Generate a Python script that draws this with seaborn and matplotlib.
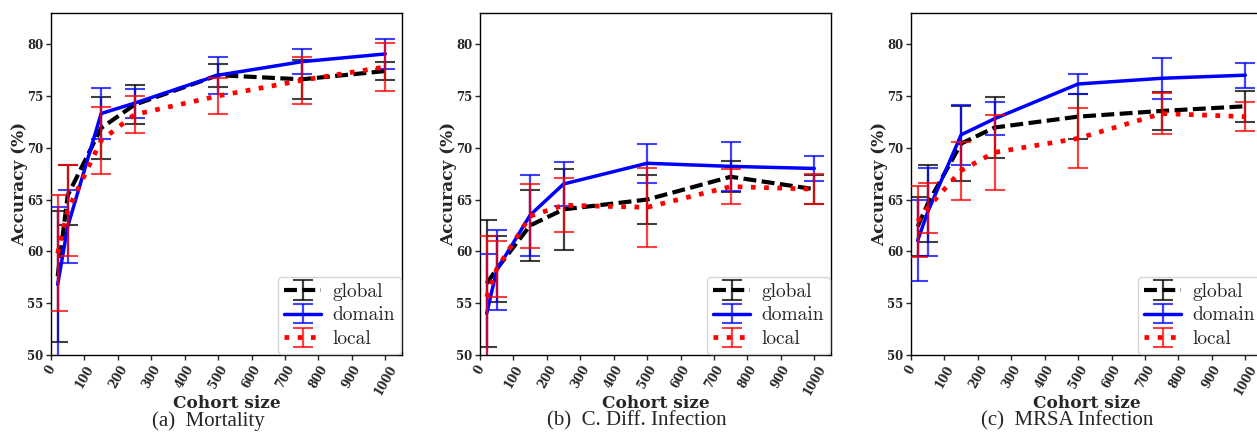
import matplotlib
matplotlib.use("Agg")
import matplotlib.pyplot as plt
import seaborn as sns
import pandas as pd
from matplotlib.lines import Line2D

cohort = [20, 50, 150, 250, 500, 750, 1000]
series = ["global", "domain", "local"]

mort_global = [57.6, 65.4, 71.9, 74.15, 77.0, 76.6, 77.4]
mort_global_err = [6.3, 2.9, 3.0, 1.9, 1.1, 1.9, 0.9]
mort_domain = [56.8, 62.4, 73.3, 74.3, 77.0, 78.3, 79.05]
mort_domain_err = [7.5, 3.5, 2.5, 1.4, 1.8, 1.2, 1.45]
mort_local = [59.8, 63.95, 70.7, 73.2, 75.0, 76.5, 77.8]
mort_local_err = [5.6, 4.35, 3.2, 1.8, 1.7, 2.3, 2.3]

cdiff_global = [56.9, 58.3, 62.5, 64.05, 65.0, 67.2, 66.0]
cdiff_global_err = [6.1, 3.2, 3.4, 3.9, 2.4, 1.5, 1.4]
cdiff_domain = [54.0, 58.2, 63.5, 66.5, 68.5, 68.2, 68.0]
cdiff_domain_err = [5.7, 3.9, 3.9, 2.1, 1.9, 2.4, 1.2]
cdiff_local = [55.6, 58.3, 63.4, 64.45, 64.25, 66.25, 66.0]
cdiff_local_err = [5.9, 2.7, 3.1, 2.6, 3.8, 1.7, 1.45]

mrsa_global = [62.4, 64.6, 70.4, 71.95, 73.0, 73.55, 74.0]
mrsa_global_err = [2.8, 3.7, 3.6, 2.9, 2.2, 1.8, 1.5]
mrsa_domain = [61.05, 63.8, 71.25, 72.8, 76.15, 76.7, 77.0]
mrsa_domain_err = [3.95, 4.2, 2.9, 1.6, 1.0, 2.0, 1.2]
mrsa_local = [62.9, 64.2, 67.8, 69.55, 70.9, 73.3, 73.0]
mrsa_local_err = [3.4, 2.4, 2.8, 3.6, 2.9, 2.0, 1.4]

captions = ["(a)  Mortality", "(b)  C. Diff. Infection", "(c)  MRSA Infection"]
xticks = list(range(0, 1001, 100))
yticks = list(range(50, 81, 5))

panels = [
    [(mort_global, mort_global_err), (mort_domain, mort_domain_err), (mort_local, mort_local_err)],
    [(cdiff_global, cdiff_global_err), (cdiff_domain, cdiff_domain_err), (cdiff_local, cdiff_local_err)],
    [(mrsa_global, mrsa_global_err), (mrsa_domain, mrsa_domain_err), (mrsa_local, mrsa_local_err)],
]

sns.set_style("ticks")
plt.rcParams['font.family'] = ['DejaVu Serif']

colors = {"global": "black", "domain": "blue", "local": "red"}
styles = {"global": (0, (3.1, 1.3)), "domain": "-", "local": (0, (1.0, 1.8))}
lws = {"global": 3.0, "domain": 2.5, "local": 3.4}

W, H = 1257, 434
fig = plt.figure(figsize=(W / 100, H / 100), dpi=100)
lefts = [51, 480, 911]
cap_x = [208, 637, 1067]
axw = 351
bottom, top = 355, 13

for p, (left, data) in enumerate(zip(lefts, panels)):
    ax = fig.add_axes([left / W, 1 - bottom / H, axw / W, (bottom - top) / H])
    handles = []
    for i, (name, (m, e)) in enumerate(zip(series, data)):
        df = pd.DataFrame({"Cohort size": cohort, "Accuracy": m})
        sns.lineplot(data=df, x="Cohort size", y="Accuracy", color=colors[name],
                     lw=lws[name], linestyle=styles[name], ax=ax, zorder=3 + i,
                     legend=False)
        ec = ax.errorbar(cohort, m, yerr=e, fmt='none', ecolor=colors[name], alpha=0.75,
                         elinewidth=1.6, capsize=7, capthick=1.5, zorder=3 + i)
        ln = Line2D([], [], color=colors[name], lw=lws[name], linestyle=styles[name])
        handles.append((ec, ln))
    ax.set_xlim(0, 1050)
    ax.set_ylim(50, 83)
    ax.set_xticks(xticks)
    ax.set_yticks(yticks)
    ax.set_xticklabels([str(t) for t in xticks], rotation=60, fontweight='bold', fontsize=8.5)
    ax.set_yticklabels([str(t) for t in yticks], fontweight='bold', fontsize=8.5)
    ax.set_xlabel("Cohort size", fontweight='bold', fontsize=12.2)
    ax.set_ylabel("Accuracy (%)", fontweight='bold', fontsize=12.2)
    ax.xaxis.set_label_coords(0.5, -48 / 342)
    ax.xaxis.label.set_va('center')
    ax.yaxis.set_label_coords(-31 / axw, 0.5)
    ax.yaxis.label.set_va('center')
    for s in ax.spines.values():
        s.set_visible(True)
        s.set_color("black")
        s.set_linewidth(1.0)
    ax.tick_params(axis='both', length=3.5, width=1, pad=2)
    ax.legend(handles, series, loc='lower right', handlelength=1.9,
              prop={'family': 'cmr10', 'size': 14},
              borderpad=0.3, labelspacing=0.3, handletextpad=0.6, borderaxespad=0.05)
    fig.text(cap_x[p] / W, 1 - 421 / H, captions[p], ha='center', va='center',
             fontsize=15, family='Liberation Serif')

fig.savefig("out.png", dpi=100)
